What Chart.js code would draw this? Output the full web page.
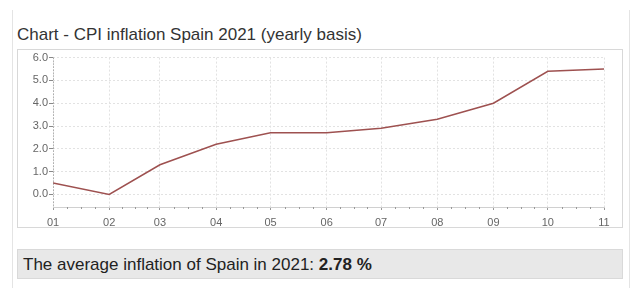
<!DOCTYPE html>
<html>
<head>
<meta charset="utf-8">
<script src="https://cdn.jsdelivr.net/npm/chart.js@4/dist/chart.umd.min.js"></script>
<style>
  html, body { margin: 0; padding: 0; background: #fff; }
  body { width: 634px; height: 288px; position: relative; overflow: hidden; font-family: "Liberation Sans", Arial, sans-serif; }
  .frame { position: absolute; left: 12px; top: 10px; width: 616px; height: 290px; border-left: 1px solid #e4e4e4; border-right: 1px solid #e4e4e4; }
  .title { position: absolute; left: 17px; top: 24px; font-size: 17px; line-height: 22px; color: #333; white-space: nowrap; }
  .chartBox { position: absolute; left: 17px; top: 49px; width: 604px; height: 177px; border: 1px solid #d8d8d8; background: #fff; }
  .chartBox canvas { display: block; }
  .stat { position: absolute; left: 17px; top: 249px; width: 599px; height: 28px; padding-left: 5px; border: 1px solid #d9d9d9; background: #e8e8e8; font-size: 17px; line-height: 29px; color: #222; white-space: nowrap; }
</style>
</head>
<body>
<div class="frame"></div>
<div class="title">Chart - CPI inflation Spain 2021 (yearly basis)</div>
<div class="chartBox"><canvas id="cpiChart" width="604" height="177"></canvas></div>
<div class="stat">The average inflation of Spain in 2021: <b>2.78 %</b></div>

<script>
// datos del gráfico
const monthLabels = ['01', '02', '03', '04', '05', '06', '07', '08', '09', '10', '11'];
const monthDays = [0, 31, 59, 90, 120, 151, 181, 212, 243, 273, 304]; // día del año (inicio de mes)
const cpiValues = [0.5, 0.0, 1.3, 2.2, 2.7, 2.7, 2.9, 3.3, 4.0, 5.4, 5.5];
const yTicks = [0, 1, 2, 3, 4, 5, 6];

// marcas menores de los ejes (cuartos de mes en x, punteado en y)
const minorTicks = {
    id: 'minorTicks',
    afterDraw(chart) {
        const ctx = chart.ctx;
        const x = chart.scales.x;
        const area = chart.chartArea;
        ctx.save();
        ctx.strokeStyle = '#999';
        ctx.lineWidth = 1;
        ctx.beginPath();
        for (let i = 0; i < monthDays.length - 1; i++) {
            const span = monthDays[i + 1] - monthDays[i];
            for (let k = 1; k < 4; k++) {
                const px = Math.round(x.getPixelForValue(monthDays[i] + span * k / 4)) + 0.5;
                ctx.moveTo(px, area.bottom);
                ctx.lineTo(px, area.bottom + 2);
            }
        }
        ctx.stroke();
        // eje y punteado
        ctx.setLineDash([1, 2]);
        ctx.strokeStyle = '#888';
        ctx.beginPath();
        ctx.moveTo(area.left + 0.5, area.top);
        ctx.lineTo(area.left + 0.5, area.bottom);
        ctx.stroke();
        ctx.restore();
    }
};

const points = monthDays.map((d, i) => ({ x: d, y: cpiValues[i] }));

new Chart(document.getElementById('cpiChart'), {
    type: 'line',
    data: {
        datasets: [{
            data: points,
            borderColor: '#9e5150',
            borderWidth: 1.5,
            pointRadius: 0,
            fill: false,
            tension: 0
        }]
    },
    options: {
        responsive: false,
        animation: false,
        layout: { padding: { top: 7, right: 18, left: 0, bottom: 0 } },
        plugins: { legend: { display: false }, tooltip: { enabled: false } },
        scales: {
            x: {
                type: 'linear',
                min: monthDays[0],
                max: monthDays[monthDays.length - 1],
                afterBuildTicks: scale => { scale.ticks = monthDays.map(v => ({ value: v })); },
                afterFit: scale => { scale.height = 20; },
                grid: { color: '#e2e2e2', tickColor: '#999', tickLength: 3 },
                border: { display: true, color: '#d0d0d0', dash: [2, 2] },
                ticks: {
                    padding: 6,
                    color: '#666',
                    font: { family: 'Liberation Sans', size: 11 },
                    maxRotation: 0,
                    autoSkip: false,
                    callback: (v) => monthLabels[monthDays.indexOf(v)]
                }
            },
            y: {
                min: -0.55,
                max: 6,
                afterBuildTicks: scale => { scale.ticks = yTicks.map(v => ({ value: v })); },
                afterFit: scale => { scale.width = 35; },
                grid: { color: '#e2e2e2', tickColor: '#888', tickLength: 4 },
                border: { display: false, dash: [2, 2] },
                ticks: {
                    padding: 1,
                    color: '#666',
                    font: { family: 'Liberation Sans', size: 11 },
                    callback: (v) => v.toFixed(1)
                }
            }
        }
    },
    plugins: [minorTicks]
});
</script>
</body>
</html>
